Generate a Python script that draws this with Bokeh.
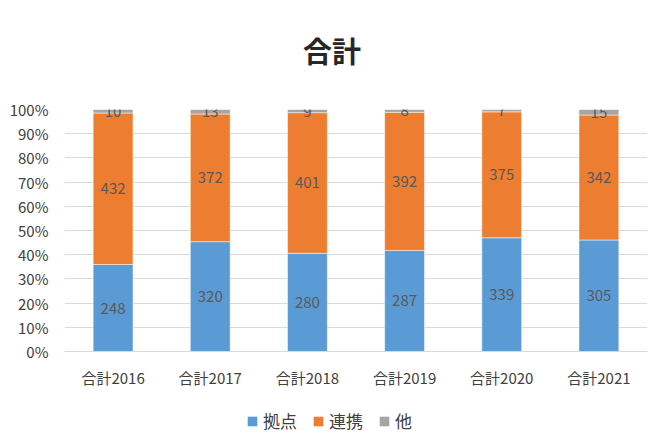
from bokeh.plotting import figure
from bokeh.layouts import column
from bokeh.models import (FactorRange, Range1d, FixedTicker, NumeralTickFormatter,
                          Legend, LegendItem, ColumnDataSource, Label)
from bokeh.core.properties import value
from bokeh.embed import file_html
from bokeh.resources import INLINE

categories = ["合計2016", "合計2017", "合計2018", "合計2019", "合計2020", "合計2021"]
kyoten = [248, 320, 280, 287, 339, 305]
renkei = [432, 372, 401, 392, 375, 342]
hoka = [10, 13, 9, 8, 7, 15]
series_names = ["拠点", "連携", "他"]
colors = ["#5B9BD5", "#ED7D31", "#A5A5A5"]
chart_title = "合計"

FONT = "Noto Sans CJK JP"
BL, BR = 64, 3

totals = [a + b + c for a, b, c in zip(kyoten, renkei, hoka)]
f1 = [a / t for a, t in zip(kyoten, totals)]
f2 = [b / t for b, t in zip(renkei, totals)]
f3 = [c / t for c, t in zip(hoka, totals)]

src = ColumnDataSource(dict(x=categories, s1=f1, s2=f2, s3=f3))


def strip(h):
    f = figure(width=650, height=h, x_range=Range1d(0, 1), y_range=Range1d(0, h),
               output_backend="svg", toolbar_location=None,
               x_axis_location=None, y_axis_location=None,
               min_border_left=BL, min_border_right=BR, min_border_top=0, min_border_bottom=0)
    f.outline_line_color = None
    f.xgrid.grid_line_color = None
    f.ygrid.grid_line_color = None
    return f


# title strip
pt = strip(80)
pt.add_layout(Label(x=0.5, y=31, x_offset=-24, text=chart_title, text_align="center",
                    text_baseline="middle", text_font=FONT, text_font_size="29px",
                    text_font_style="bold", text_color="#262626"))

p = figure(x_range=FactorRange(*categories), y_range=Range1d(0, 1),
           width=650, height=320, output_backend="svg", toolbar_location=None,
           min_border_left=BL, min_border_right=BR, min_border_top=29,
           min_border_bottom=49)
p.outline_line_color = None

r = p.vbar_stack(["s1", "s2", "s3"], x="x", width=0.41, color=colors,
                 line_color="white", line_width=0.5, source=src)

# data labels
lab_x, lab_y, lab_t = [], [], []
for i, c in enumerate(categories):
    lab_x += [c, c, c]
    lab_y += [f1[i] / 2, f1[i] + f2[i] / 2, f1[i] + f2[i] + f3[i] / 2]
    lab_t += [str(kyoten[i]), str(renkei[i]), str(hoka[i])]
p.text(x=lab_x, y=lab_y, text=lab_t, text_align="center", text_baseline="middle",
       text_font=value(FONT), text_font_size="15px", text_color="#595959")

p.yaxis.ticker = FixedTicker(ticks=[i / 10 for i in range(11)])
p.yaxis.formatter = NumeralTickFormatter(format="0%")
p.yaxis.axis_line_color = None
p.yaxis.major_tick_line_color = None
p.yaxis.minor_tick_line_color = None
p.yaxis.major_label_text_font = FONT
p.yaxis.major_label_text_font_size = "15px"
p.yaxis.major_label_text_color = "#404040"
p.yaxis.major_label_standoff = 10

p.xaxis.axis_line_color = "#D9D9D9"
p.xaxis.major_tick_line_color = None
p.xaxis.minor_tick_line_color = None
p.xaxis.major_label_text_font = FONT
p.xaxis.major_label_text_font_size = "15px"
p.xaxis.major_label_text_color = "#404040"
p.xaxis.major_label_standoff = 9

p.xgrid.grid_line_color = None
p.ygrid.grid_line_color = "#D9D9D9"

# legend strip (zero-size swatch renderers, only the legend shows)
pl = strip(40)
lr = [pl.vbar(x=[0.5], top=[0], bottom=[0], width=0, fill_color=c, line_color=None)
      for c in colors]
legend = Legend(items=[LegendItem(label=n, renderers=[rr]) for n, rr in zip(series_names, lr)],
                orientation="horizontal", location=(182, 7), border_line_color=None,
                background_fill_alpha=0,
                label_text_font=FONT, label_text_font_size="17px", label_text_color="#404040",
                glyph_width=12, glyph_height=12, spacing=15, label_standoff=5,
                margin=0, padding=4)
pl.add_layout(legend)

layout = column(pt, p, pl, spacing=0)
open("out.html", "w").write(file_html(layout, INLINE))
